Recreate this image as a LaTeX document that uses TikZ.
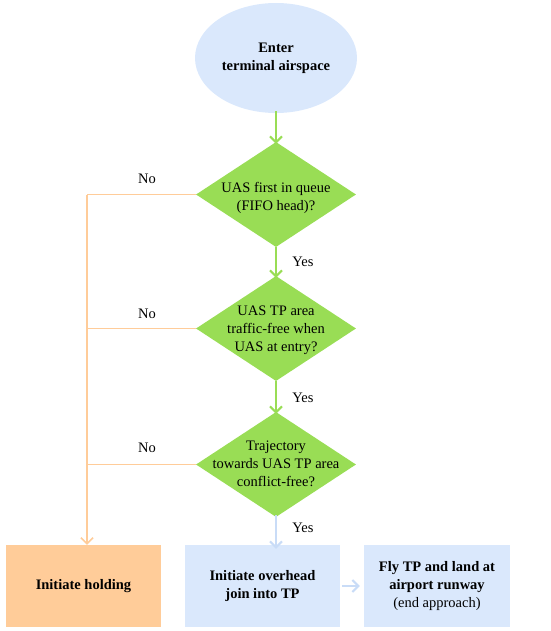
\documentclass[tikz,border=0pt]{standalone}
\usepackage{fontspec}
\setmainfont{Liberation Serif}
\usetikzlibrary{shapes.geometric,arrows.meta}
\definecolor{lblue}{HTML}{DAE8FC}
\definecolor{ablue}{HTML}{C9DCF7}
\definecolor{dgreen}{HTML}{99DD55}
\definecolor{peach}{HTML}{FFCC99}
\definecolor{lorange}{HTML}{FFCC99}
\begin{document}
\begin{tikzpicture}[x=1pt,y=-1pt,
  every node/.style={font=\fontsize{14.5}{18}\selectfont},
  dshape/.style={diamond, fill=dgreen, minimum width=160pt, minimum height=105pt, inner sep=0pt},
  dtext/.style={align=center, inner sep=0pt},
  boxx/.style={rectangle, minimum width=155pt, minimum height=82pt, inner sep=0pt, align=center},
  garrow/.style={draw=dgreen, line width=2pt, -{Straight Barb[length=6pt,width=12pt,line width=2pt]}},
  barrow/.style={draw=ablue, line width=2pt, -{Straight Barb[length=6pt,width=12pt,line width=2pt]}},
  oline/.style={draw=lorange, line width=1.5pt},
  oarrow/.style={draw=lorange, line width=1.5pt, -{Straight Barb[length=6pt,width=12pt,line width=1.5pt]}},
  lbl/.style={inner sep=0pt}
]
\useasboundingbox (0,0) rectangle (550,631);
\node[ellipse, fill=lblue, minimum width=162pt, minimum height=110pt, inner sep=0pt, align=center, font=\fontsize{14.5}{18}\selectfont\bfseries] (start) at (276,58) {Enter\\terminal airspace};

\node[dshape] (d1) at (276,194.5) {};
\node[dtext] (t1) at (276,198) {UAS first in queue\\(FIFO head)?};
\node[dshape] (d2) at (276,328.5) {};
\node[dtext] (t2) at (276,330) {UAS TP area\\traffic-free when\\UAS at entry?};
\node[dshape] (d3) at (276,464.5) {};
\node[dtext] (t3) at (276,464) {Trajectory\\towards UAS TP area\\conflict-free?};

\node[boxx, fill=peach, font=\fontsize{14.5}{18}\selectfont\bfseries] (hold) at (83.5,586) {Initiate holding};
\node[boxx, fill=lblue, font=\fontsize{14.5}{18}\selectfont\bfseries] (b2) at (262.5,586) {Initiate overhead\\join into TP};
\node[boxx, fill=lblue, minimum width=146pt] (b3) at (437,586) {\textbf{Fly TP and land at}\\\textbf{airport runway}\\(end approach)};

\coordinate (corner) at (87,194.5);

\draw[garrow] ([yshift=2pt]start.south) -- ([yshift=-2pt]d1.north);
\draw[garrow] (d1.south) -- ([yshift=-2pt]d2.north);
\draw[garrow] (d2.south) -- ([yshift=-2pt]d3.north);
\draw[barrow] ([yshift=2pt]d3.south) -- ([yshift=-4pt]d3.south |- b2.north);
\draw[barrow] ([xshift=2pt]b2.east) -- ([xshift=-4pt]b3.west);

\draw[oline] (d1.west) -- (corner);
\draw[oarrow] (corner) -- (corner |- hold.north);
\draw[oline] (d2.west) -- (corner |- d2.west);
\draw[oline] (d3.west) -- (corner |- d3.west);

\node[lbl] (no1) at (147,179) {No};
\node[lbl] (no2) at (147,314) {No};
\node[lbl] (no3) at (147,448) {No};
\node[lbl] (y1) at (303,262) {Yes};
\node[lbl] (y2) at (303,398) {Yes};
\node[lbl] (y3) at (303,528) {Yes};
\end{tikzpicture}
\end{document}
